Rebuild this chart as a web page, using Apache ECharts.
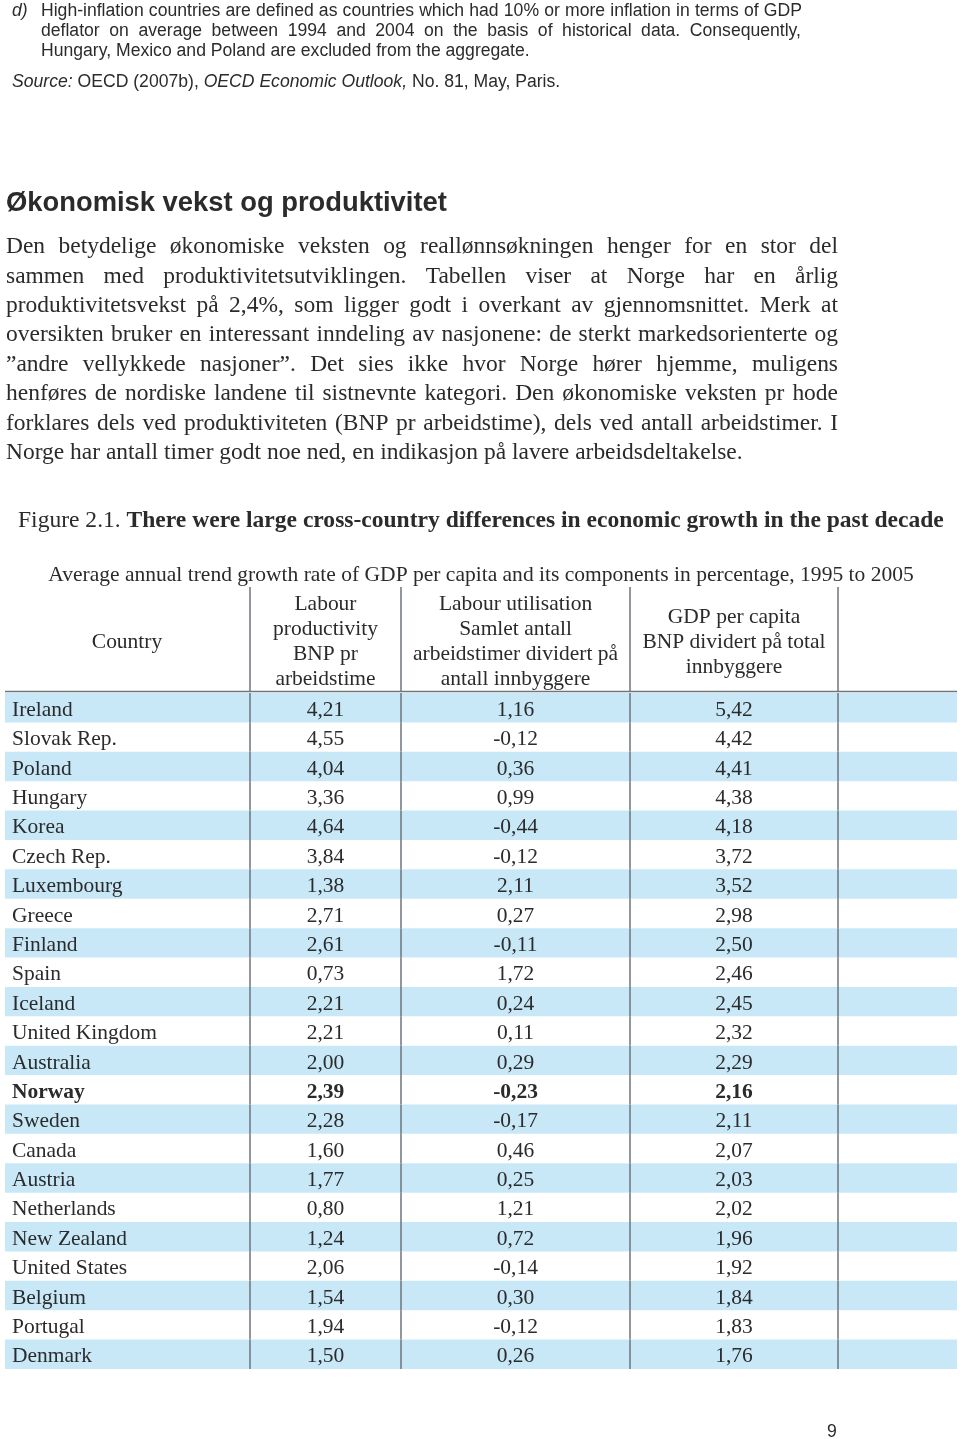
<!DOCTYPE html>
<html><head><meta charset="utf-8">
<script src="https://cdn.jsdelivr.net/npm/echarts@6/dist/echarts.min.js"></script>
<style>html,body{margin:0;padding:0;background:#fff}#c{width:960px;height:1439px}</style>
</head><body><div id="c"></div>
<script>
// ---------- data ----------
const countries = ['Ireland','Slovak Rep.','Poland','Hungary','Korea','Czech Rep.','Luxembourg','Greece','Finland','Spain','Iceland','United Kingdom','Australia','Norway','Sweden','Canada','Austria','Netherlands','New Zealand','United States','Belgium','Portugal','Denmark'];
const productivity = [4.21,4.55,4.04,3.36,4.64,3.84,1.38,2.71,2.61,0.73,2.21,2.21,2.00,2.39,2.28,1.60,1.77,0.80,1.24,2.06,1.54,1.94,1.50];
const utilisation = [1.16,-0.12,0.36,0.99,-0.44,-0.12,2.11,0.27,-0.11,1.72,0.24,0.11,0.29,-0.23,-0.17,0.46,0.25,1.21,0.72,-0.14,0.30,-0.12,0.26];
const gdpPerCapita = [5.42,4.42,4.41,4.38,4.18,3.72,3.52,2.98,2.50,2.46,2.45,2.32,2.29,2.16,2.11,2.07,2.03,2.02,1.96,1.92,1.84,1.83,1.76];
const boldRows = ['Norway'];
const headerCountry = 'Country';
const headerProductivity = ['Labour','productivity','BNP pr','arbeidstime'];
const headerUtilisation = ['Labour utilisation','Samlet antall','arbeidstimer dividert på','antall innbyggere'];
const headerGdp = ['GDP per capita','BNP dividert på total','innbyggere'];
const footnoteLines = [
  'High-inflation countries are defined as countries which had 10% or more inflation in terms of GDP',
  'deflator on average between 1994 and 2004 on the basis of historical data. Consequently,',
  'Hungary, Mexico and Poland are excluded from the aggregate.'
];
const heading = 'Økonomisk vekst og produktivitet';
const paragraphLines = [
  'Den betydelige økonomiske veksten og reallønnsøkningen henger for en stor del',
  'sammen med produktivitetsutviklingen. Tabellen viser at Norge har en årlig',
  'produktivitetsvekst på 2,4%, som ligger godt i overkant av gjennomsnittet. Merk at',
  'oversikten bruker en interessant inndeling av nasjonene: de sterkt markedsorienterte og',
  '”andre vellykkede nasjoner”. Det sies ikke hvor Norge hører hjemme, muligens',
  'henføres de nordiske landene til sistnevnte kategori. Den økonomiske veksten pr hode',
  'forklares dels ved produktiviteten (BNP pr arbeidstime), dels ved antall arbeidstimer. I',
  'Norge har antall timer godt noe ned, en indikasjon på lavere arbeidsdeltakelse.'
];
const captionLabel = 'Figure 2.1. ';
const captionText = 'There were large cross-country differences in economic growth in the past decade';
const subtitle = 'Average annual trend growth rate of GDP per capita and its components in percentage, 1995 to 2005';

// ---------- helpers ----------
const TXT = '#2b2b2b';
const SERIF = '"Liberation Serif", "Times New Roman", serif';
const SANS = '"Liberation Sans", Arial, sans-serif';
const DY = 2; // optical offset for vertically centred text
const ctx = document.createElement('canvas').getContext('2d');
function measure(text, size, family, weight, style) {
  ctx.font = (style || 'normal') + ' ' + (weight || 'normal') + ' ' + size + 'px ' + family;
  return ctx.measureText(text).width;
}
function fit(text, target, family, weight, style) {
  return 20 * target / measure(text, 20, family, weight, style);
}
function txt(x, y, text, size, family, opts) {
  opts = opts || {};
  return {
    type: 'text', z: 100, silent: true,
    style: {
      x: x, y: y + DY, text: text, fill: opts.fill || TXT,
      fontSize: size, fontFamily: family,
      fontWeight: opts.weight || 'normal', fontStyle: opts.style || 'normal',
      textAlign: opts.align || 'left', textVerticalAlign: 'middle',
      rich: opts.rich
    }
  };
}
function lineEls(text, x0, x1, y, size, family, justify, opts) {
  const words = text.split(' ');
  const widths = words.map(wd => measure(wd, size, family, opts && opts.weight, opts && opts.style));
  const total = widths.reduce((a, b) => a + b, 0);
  const gap = (justify && words.length > 1) ? (x1 - x0 - total) / (words.length - 1) : measure(' ', size, family);
  const els = [];
  let x = x0;
  words.forEach((wd, i) => { els.push(txt(x, y, wd, size, family, opts)); x += widths[i] + gap; });
  return els;
}
const fmt = v => v.toFixed(2).replace('.', ',');

// ---------- sizes ----------
const footSize = fit(footnoteLines[2], 489, SANS);
const paraSize = fit(paragraphLines[7], 737, SERIF);
const headSize = fit(heading, 441, SANS, 'bold');
const capW = measure(captionLabel, 20, SERIF) + measure(captionText, 20, SERIF, 'bold');
const capSize = 20 * 926 / capW;
const subSize = fit(subtitle, 866, SERIF);
const tabSize = fit('United Kingdom', 145, SERIF);

// ---------- graphic elements ----------
const els = [];
els.push(txt(12, 9, 'd)', footSize, SANS, {style: 'italic'}));
els.push(...lineEls(footnoteLines[0], 41, 802, 9, footSize, SANS, true));
els.push(...lineEls(footnoteLines[1], 41, 801, 29, footSize, SANS, true));
els.push(...lineEls(footnoteLines[2], 41, 801, 49, footSize, SANS, false));
els.push(txt(12, 80, '{i|Source:} OECD (2007b), {i|OECD Economic Outlook,} No. 81, May, Paris.', footSize, SANS,
  {rich: {i: {fontStyle: 'italic', fontSize: footSize, fontFamily: SANS, fill: TXT}}}));
els.push(txt(6, 201, heading, headSize, SANS, {weight: 'bold'}));
paragraphLines.forEach((l, i) => {
  els.push(...lineEls(l, 6, 838, 245 + 29.4 * i, paraSize, SERIF, i < paragraphLines.length - 1));
});
els.push(txt(18, 519, captionLabel + '{b|' + captionText + '}', capSize, SERIF,
  {rich: {b: {fontWeight: 'bold', fontSize: capSize, fontFamily: SERIF, fill: TXT}}}));
els.push(txt(481, 573, subtitle, subSize, SERIF, {align: 'center'}));
// header
els.push(txt(127, 640, headerCountry, tabSize, SERIF, {align: 'center'}));
headerProductivity.forEach((t, i) => els.push(txt(325.5, 602 + 25 * i, t, tabSize, SERIF, {align: 'center'})));
headerUtilisation.forEach((t, i) => els.push(txt(515.5, 602 + 25 * i, t, tabSize, SERIF, {align: 'center'})));
headerGdp.forEach((t, i) => els.push(txt(734, 615 + 25 * i, t, tabSize, SERIF, {align: 'center'})));
const LINE = '#6c757b';
[250, 401, 630, 838].forEach(x => els.push({type: 'line', z: 100, silent: true,
  shape: {x1: x, y1: 587, x2: x, y2: 692}, style: {stroke: LINE, lineWidth: 1.5}}));
els.push({type: 'line', z: 100, silent: true, shape: {x1: 5, y1: 691.5, x2: 957, y2: 691.5},
  style: {stroke: LINE, lineWidth: 1.5}});
els.push(txt(832, 1430, '9', footSize, SANS, {align: 'center'}));

// ---------- chart ----------
const chart = echarts.init(document.getElementById('c'), null, {renderer: 'canvas'});
const rows = countries.map((c, i) => [i, productivity[i], utilisation[i], gdpPerCapita[i]]);
const colLines = [250, 401, 630, 838];
const colCenters = [325.5, 515.5, 734];
chart.setOption({
  animation: false,
  backgroundColor: '#ffffff',
  grid: {left: 5, right: 3, top: 693, bottom: 70},
  xAxis: {type: 'value', min: 5, max: 957, show: false},
  yAxis: {type: 'category', data: countries, inverse: true, show: false},
  series: [{
    type: 'custom',
    data: rows,
    encode: {y: 0, x: 1},
    renderItem: function (params, api) {
      const idx = api.value(0);
      const c = api.coord([5, idx]);
      const h = api.size([0, 1])[1];
      const right = api.coord([957, idx])[0];
      const bold = boldRows.indexOf(countries[idx]) >= 0;
      const children = [];
      if (idx % 2 === 0) {
        children.push({type: 'rect', shape: {x: c[0], y: c[1] - h / 2, width: right - c[0], height: h},
          style: {fill: '#c8e8f8'}});
      }
      colLines.forEach(x => {
        const px = api.coord([x, idx])[0];
        children.push({type: 'line', shape: {x1: px, y1: c[1] - h / 2, x2: px, y2: c[1] + h / 2},
          style: {stroke: LINE, lineWidth: 1.5}});
      });
      const ty = c[1] + 2.5;
      const font = {fontSize: tabSize, fontFamily: SERIF, fontWeight: bold ? 'bold' : 'normal', fill: TXT, textVerticalAlign: 'middle'};
      children.push({type: 'text', style: Object.assign({x: api.coord([12, idx])[0], y: ty, text: countries[idx], textAlign: 'left'}, font)});
      [api.value(1), api.value(2), api.value(3)].forEach((v, k) => {
        children.push({type: 'text', style: Object.assign({x: api.coord([colCenters[k], idx])[0], y: ty, text: fmt(v), textAlign: 'center'}, font)});
      });
      return {type: 'group', children: children};
    }
  }],
  graphic: {elements: els}
});
</script></body></html>
